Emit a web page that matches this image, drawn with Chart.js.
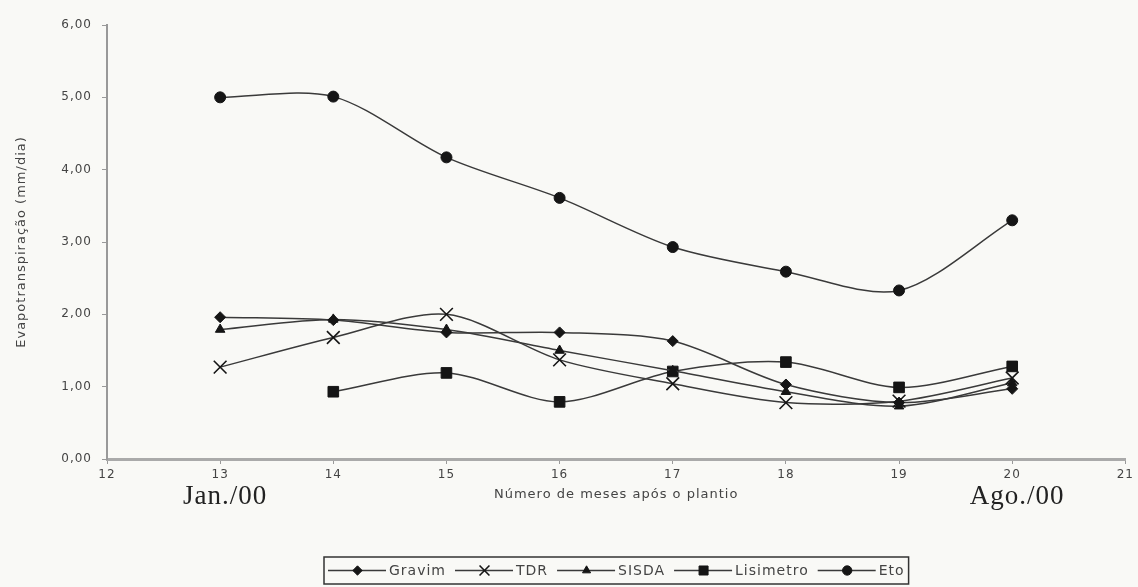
<!DOCTYPE html>
<html>
<head>
<meta charset="utf-8">
<script src="https://cdn.jsdelivr.net/npm/chart.js@4.4.1/dist/chart.umd.min.js"></script>
<style>
  html, body { margin: 0; padding: 0; background: #f9f9f6; }
  #wrap { width: 1138px; height: 587px; position: relative; }
</style>
</head>
<body>
<div id="wrap"><canvas id="c"></canvas></div>
<script>
// Months after planting (x values)
const months = [13, 14, 15, 16, 17, 18, 19, 20];

// Evapotranspiration (mm/dia) per method
const gravim    = [1.96, 1.92, 1.75, 1.75, 1.63, 1.03, 0.78, 0.97];
const tdr       = [1.27, 1.68, 2.00, 1.37, 1.04, 0.78, 0.80, 1.12];
const sisda     = [1.79, 1.93, 1.79, 1.50, 1.22, 0.93, 0.73, 1.05];
const lisimetro = [null, 0.93, 1.19, 0.79, 1.21, 1.34, 0.99, 1.28];
const eto       = [5.00, 5.01, 4.17, 3.61, 2.93, 2.59, 2.33, 3.30];

const seriesNames = ['Gravim', 'TDR', 'SISDA', 'Lisimetro', 'Eto'];
const seriesValues = [gravim, tdr, sisda, lisimetro, eto];

// Calendar markers under the x axis
const periodMonths = [13, 20];
const periodLabels = ['Jan./00', 'Ago./00'];

const xTitle = 'Número de meses após o plantio';
const yTitle = 'Evapotranspiração (mm/dia)';

const markers = [
  { pointStyle: 'rectRot',  radius: 5.5, borderWidth: 1 },
  { pointStyle: 'crossRot', radius: 9,   borderWidth: 1.6 },
  { pointStyle: 'triangle', radius: 5.5, borderWidth: 1 },
  { pointStyle: 'rect',     radius: 7.5, borderWidth: 1 },
  { pointStyle: 'circle',   radius: 5.5, borderWidth: 1 }
];

const LINE = '#3a3a3a';
const INK = '#151515';
const TEXT = '#444444';

const datasets = seriesNames.map((name, i) => ({
  label: name,
  data: months.map((m, j) => ({ x: m, y: seriesValues[i][j] })),
  borderColor: LINE,
  borderWidth: 1.5,
  backgroundColor: INK,
  pointBackgroundColor: INK,
  pointBorderColor: INK,
  pointStyle: markers[i].pointStyle,
  pointRadius: markers[i].radius,
  pointBorderWidth: markers[i].borderWidth,
  tension: 0.3,
  fill: false
}));

// Letter spacing for all canvas text
const spacing = {
  id: 'spacing',
  beforeUpdate(chart) { chart.ctx.letterSpacing = '1px'; },
  beforeDraw(chart) { chart.ctx.letterSpacing = '1px'; }
};

// Month names under the axis and the boxed legend at the bottom
const extras = {
  id: 'extras',
  afterDraw(chart) {
    const ctx = chart.ctx;
    const xs = chart.scales.x;
    ctx.save();
    ctx.letterSpacing = '1px';
    ctx.fillStyle = '#222';
    ctx.font = '27px "Liberation Serif", "Times New Roman", serif';
    ctx.textAlign = 'center';
    ctx.textBaseline = 'middle';
    periodMonths.forEach((m, i) => {
      ctx.fillText(periodLabels[i], xs.getPixelForValue(m) + 5, 497);
    });

    // legend
    ctx.letterSpacing = '1px';
    ctx.font = '14px "DejaVu Sans", sans-serif';
    ctx.textAlign = 'left';
    const symW = 61, gap = 9, padX = 4;
    const items = chart.data.datasets.map(ds => ({ ds, tw: ctx.measureText(ds.label).width }));
    const total = items.reduce((s, it) => s + symW + it.tw, 0) + gap * (items.length - 1) + padX * 2;
    const cx = (chart.chartArea.left + chart.chartArea.right) / 2;
    const bx = Math.round(cx - total / 2);
    const by = 557, bh = 27;
    ctx.strokeStyle = '#333';
    ctx.lineWidth = 1.5;
    ctx.strokeRect(bx, by, total, bh);
    let x = bx + padX;
    const cy = by + bh / 2;
    items.forEach(it => {
      ctx.strokeStyle = LINE;
      ctx.lineWidth = 1.5;
      ctx.beginPath();
      ctx.moveTo(x, cy);
      ctx.lineTo(x + symW - 3, cy);
      ctx.stroke();
      ctx.fillStyle = INK;
      ctx.strokeStyle = INK;
      ctx.lineWidth = it.ds.pointBorderWidth;
      Chart.helpers.drawPoint(ctx, {
        pointStyle: it.ds.pointStyle,
        radius: it.ds.pointStyle === 'crossRot' ? 7 : it.ds.pointRadius * 0.85,
        rotation: 0,
        borderWidth: it.ds.pointBorderWidth
      }, x + symW / 2 - 1, cy);
      ctx.fillStyle = TEXT;
      ctx.fillText(it.ds.label, x + symW, cy + 1);
      x += symW + it.tw + gap;
    });
    ctx.restore();
  }
};

Chart.defaults.font.family = '"DejaVu Sans", sans-serif';
Chart.defaults.color = TEXT;

new Chart(document.getElementById('c'), {
  type: 'line',
  data: { datasets },
  plugins: [spacing, extras],
  options: {
    responsive: true,
    maintainAspectRatio: false,
    animation: false,
    layout: { padding: { top: 25, right: 9, left: 0, bottom: 0 } },
    plugins: {
      legend: { display: false },
      tooltip: { enabled: false }
    },
    scales: {
      x: {
        type: 'linear',
        min: 12,
        max: 21,
        ticks: { stepSize: 1, padding: 4, font: { size: 12 }, color: TEXT },
        grid: { drawOnChartArea: false, drawTicks: true, tickLength: 5, color: '#999' },
        border: { display: true, color: '#aaa', width: 3 },
        title: { display: true, text: xTitle, font: { size: 13 }, color: TEXT, padding: { top: 0, bottom: 85 } },
        afterFit(s) { s.height = 128; }
      },
      y: {
        min: 0,
        max: 6,
        ticks: {
          stepSize: 1,
          padding: 10,
          font: { size: 12 },
          color: TEXT,
          callback: v => v.toFixed(2).replace('.', ',')
        },
        grid: { drawOnChartArea: false, drawTicks: true, tickLength: 5, color: '#999' },
        border: { display: true, color: '#999', width: 2 },
        title: { display: true, text: yTitle, font: { size: 13 }, color: TEXT, padding: { top: 14, bottom: 0 } },
        afterFit(s) { s.width = 107; }
      }
    }
  }
});
</script>
</body>
</html>
